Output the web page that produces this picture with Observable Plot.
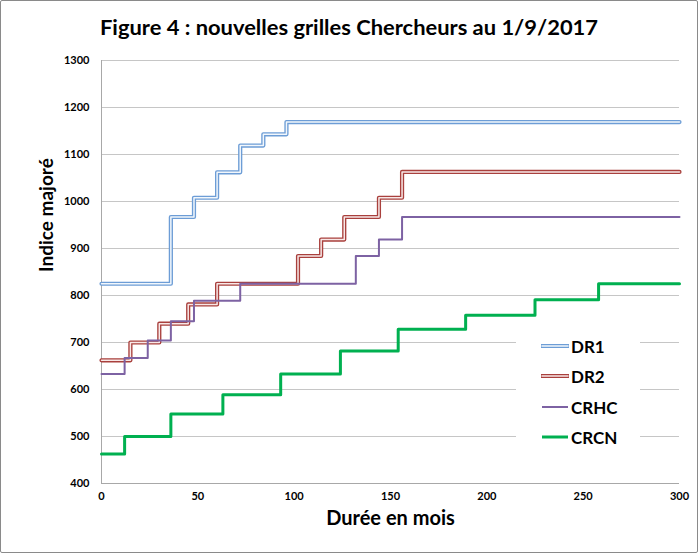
<!DOCTYPE html>
<html><head><meta charset="utf-8">
<script src="https://cdn.jsdelivr.net/npm/d3@7"></script>
<script src="https://cdn.jsdelivr.net/npm/@observablehq/plot@0.6"></script>
<style>
html,body{margin:0;padding:0;background:#fff;}
#wrap{position:relative;width:698px;height:553px;overflow:hidden;font-family:Lato,"Open Sans",sans-serif;background:#fff;}
#chart{position:absolute;left:0;top:0;}
#title{position:absolute;left:0;top:0;}
#legend{position:absolute;left:516px;top:330px;width:124px;height:122px;background:#fff;}
.row{position:absolute;left:25px;height:20px;display:flex;align-items:center;font-weight:bold;font-size:17px;color:#000;}
.row svg{margin-right:2px;}
#frame{position:absolute;left:0;top:0;width:698px;height:553px;box-sizing:border-box;border:1px solid #8a8a8a;border-radius:2px;pointer-events:none;}
</style></head><body>
<div id="wrap">
  <div id="chart"></div>
  <svg id="title" width="698" height="50"><text x="349" y="35" text-anchor="middle" font-family="Lato, 'Open Sans', sans-serif" font-weight="bold" font-size="21" textLength="498" lengthAdjust="spacingAndGlyphs" fill="#000">Figure 4 : nouvelles grilles Chercheurs au 1/9/2017</text></svg>
  <div id="legend"></div>
  <div id="frame"></div>
</div>
<script>
// Data (months, indice majoré) — points where each step begins
const DR1_x  = [0, 36, 48, 60, 72, 84, 96, 300];
const DR1_y  = [825, 967, 1008, 1062, 1119, 1143, 1169, 1169];
const DR2_x  = [0, 15, 30, 45, 60, 102, 114, 126, 144, 156, 300];
const DR2_y  = [662, 700, 740, 781, 825, 884, 919, 967, 1008, 1063, 1063];
const CRHC_x = [0, 12, 24, 36, 48, 72, 132, 144, 156, 300];
const CRHC_y = [633, 667, 704, 745, 789, 825, 884, 919, 967, 967];
const CRCN_x = [0, 12, 36, 63, 93, 124, 154, 189, 225, 258, 300];
const CRCN_y = [463, 500, 548, 589, 633, 682, 728, 758, 791, 825, 825];
const names = ["DR1", "DR2", "CRHC", "CRCN"];
const xTicks = [0, 50, 100, 150, 200, 250, 300];
const yTicks = [400, 500, 600, 700, 800, 900, 1000, 1100, 1200, 1300];

const toRows = (name, xs, ys) => xs.map((x, i) => ({name, x, y: ys[i]}));
const dr1 = toRows("DR1", DR1_x, DR1_y);
const dr2 = toRows("DR2", DR2_x, DR2_y);
const crhc = toRows("CRHC", CRHC_x, CRHC_y);
const crcn = toRows("CRCN", CRCN_x, CRCN_y);

const styles = {
  DR1: {outer: "#6d9dd6", inner: "#f2f7fc", w: 4.2, iw: 1.5},
  DR2: {outer: "#a9403d", inner: "#f8e8e7", w: 4.2, iw: 1.5},
  CRHC: {stroke: "#7d62a3", w: 2},
  CRCN: {stroke: "#00b050", w: 3}
};

const chart = Plot.plot({
  width: 698,
  height: 553,
  marginTop: 60,
  marginBottom: 70,
  marginLeft: 101,
  marginRight: 19,
  style: {fontFamily: "Lato, 'Open Sans', sans-serif", background: "transparent"},
  x: {domain: [0, 300]},
  y: {domain: [400, 1300]},
  marks: [
    Plot.gridY(yTicks.slice(1), {stroke: "#c6c6c6", strokeOpacity: 1, strokeWidth: 1}),
    Plot.ruleY([400], {stroke: "#a8a8a8", strokeWidth: 1}),
    Plot.ruleX([0], {stroke: "#a8a8a8", strokeWidth: 1}),
    Plot.axisY({ticks: yTicks, tickFormat: d3.format("d"), tickSize: 0, tickPadding: 12, fontSize: 11, fontWeight: "bold", label: null, fill: "#000"}),
    Plot.axisX({ticks: xTicks, tickFormat: d3.format("d"), tickSize: 0, tickPadding: 9, fontSize: 11, fontWeight: "bold", label: null, fill: "#000"}),
    Plot.text(["Durée en mois"], {frameAnchor: "bottom", dy: 41, fontSize: 20, fontWeight: "bold", fill: "#000"}),
    Plot.text(["Indice majoré"], {frameAnchor: "left", dx: -55, rotate: -90, fontSize: 19, fontWeight: "bold", fill: "#000"}),
    Plot.line(dr1, {x: "x", y: "y", curve: "step-after", stroke: styles.DR1.outer, strokeWidth: styles.DR1.w}),
    Plot.line(dr1, {x: "x", y: "y", curve: "step-after", stroke: styles.DR1.inner, strokeWidth: styles.DR1.iw}),
    Plot.line(dr2, {x: "x", y: "y", curve: "step-after", stroke: styles.DR2.outer, strokeWidth: styles.DR2.w}),
    Plot.line(dr2, {x: "x", y: "y", curve: "step-after", stroke: styles.DR2.inner, strokeWidth: styles.DR2.iw}),
    Plot.line(crhc, {x: "x", y: "y", curve: "step-after", stroke: styles.CRHC.stroke, strokeWidth: styles.CRHC.w}),
    Plot.line(crcn, {x: "x", y: "y", curve: "step-after", stroke: styles.CRCN.stroke, strokeWidth: styles.CRCN.w})
  ]
});
document.getElementById("chart").appendChild(chart);

// Legend
const legend = document.getElementById("legend");
const rowCenters = [16, 46, 77, 107];
names.forEach((n, i) => {
  const s = styles[n];
  const row = document.createElement("div");
  row.className = "row";
  row.style.top = (rowCenters[i] - 10) + "px";
  let sample;
  if (s.outer) {
    sample = `<svg width="28" height="8"><line x1="1" y1="4" x2="27" y2="4" stroke="${s.outer}" stroke-width="${s.w}" stroke-linecap="round"/><line x1="1" y1="4" x2="27" y2="4" stroke="${s.inner}" stroke-width="${s.iw}" stroke-linecap="round"/></svg>`;
  } else {
    sample = `<svg width="28" height="8"><line x1="1" y1="4" x2="27" y2="4" stroke="${s.stroke}" stroke-width="${s.w}"/></svg>`;
  }
  row.innerHTML = sample + `<span>${n}</span>`;
  legend.appendChild(row);
});
</script>
</body></html>
